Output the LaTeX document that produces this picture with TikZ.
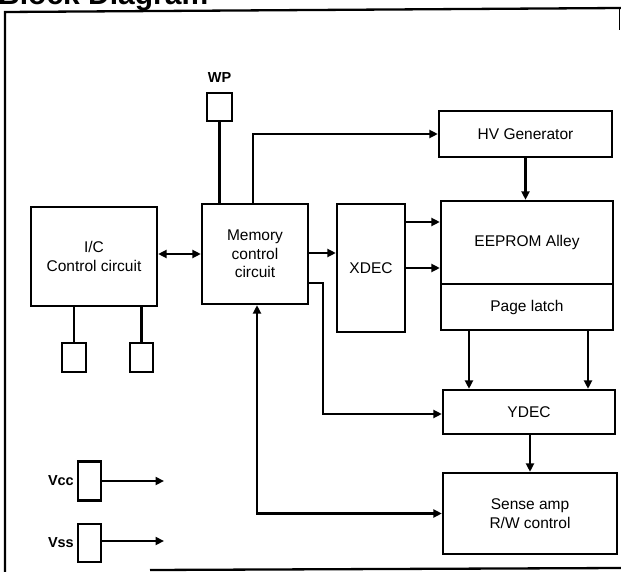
\documentclass[tikz,border=0pt]{standalone}
\usepackage{fontspec}
\setmainfont{Liberation Sans}
\usetikzlibrary{arrows.meta,calc}
\tikzset{
  blk/.style={draw, line width=2.3pt, inner sep=0pt, align=center,
              font=\fontsize{15.5}{18.5}\selectfont},
  pinbox/.style={draw, line width=2.3pt, inner sep=0pt},
  wire/.style={line width=2.2pt},
  arr/.style={wire, -{Triangle[length=8.5pt,width=8pt]}},
  darr/.style={wire, {Triangle[length=8.5pt,width=8pt]}-{Triangle[length=8.5pt,width=8pt]}},
  lbl/.style={font=\fontsize{14.5}{17}\selectfont\bfseries, inner sep=0pt},
}
\begin{document}
\begin{tikzpicture}[x=1pt,y=-1pt]
\clip (0,0) rectangle (621,572);
\fill[white] (0,0) rectangle (621,572);
% title (cut off at the top, as in the reference)
\node[anchor=base west, inner sep=0pt, font=\fontsize{30}{34}\selectfont\bfseries] (title) at (-2,5) {Block Diagram};
% frame
\draw[line width=2.3pt] (5,572) -- (5,12) -- (621,8);
\draw[line width=2.3pt] (150,570) -- (621,568);
\draw[line width=1pt] (619,8) -- (619,30);
% blocks
\node[blk, minimum width=126pt, minimum height=99pt] (ic) at (94,256.5) {I/C\\Control circuit};
\node[blk, minimum width=106pt, minimum height=100pt] (mem) at (255,254) {Memory\\control\\circuit};
\node[blk, minimum width=68pt, minimum height=128pt] (xdec) at (371,268) {XDEC};
\node[blk, minimum width=173pt, minimum height=46pt] (hv) at (525.5,134) {HV Generator};
\node[blk, minimum width=172pt, minimum height=83pt] (ee) at (527,242.5) {EEPROM Alley};
\node[blk, minimum width=172pt, minimum height=46pt] (pl) at (527,307) {Page latch};
\node[blk, minimum width=172pt, minimum height=44pt] (ydec) at (529,412) {YDEC};
\node[blk, minimum width=174pt, minimum height=81pt] (sense) at (530,513.5) {Sense amp\\R/W control};
% pins
\node[pinbox, minimum width=25pt, minimum height=28pt] (wp) at (219.5,107) {};
\node[lbl] (wplbl) at (219.5,78) {WP};
\node[pinbox, minimum width=24pt, minimum height=29pt] (p1) at (74,357.5) {};
\node[pinbox, minimum width=23pt, minimum height=29pt] (p2) at (141.5,357.5) {};
\node[pinbox, minimum width=23pt, minimum height=39pt] (vcc) at (89.5,481) {};
\node[pinbox, minimum width=23pt, minimum height=38pt] (vss) at (89.5,543) {};
\node[lbl, anchor=east] (vcclbl) at (74,481) {Vcc};
\node[lbl, anchor=east] (vsslbl) at (74,543) {Vss};
\coordinate (vccend) at (164,481);
\coordinate (vssend) at (164,541);
% connectors
\draw[wire] (wp.south) -- (wp.south |- mem.north);
\draw[wire] (p1.north) -- (p1.north |- ic.south);
\draw[wire] (p2.north) -- (p2.north |- ic.south);
\draw[arr] (mem.north -| 253,0) |- (hv.west);
\draw[darr] (ic.east |- 0,254) -- (mem.west |- 0,254);
\draw[arr] (mem.east |- 0,253) -- (xdec.west |- 0,253);
\draw[arr] (xdec.east |- 0,222) -- (ee.west |- 0,222);
\draw[arr] (xdec.east |- 0,268) -- (ee.west |- 0,268);
\draw[arr] (hv.south) -- (hv.south |- ee.north);
\draw[arr] (pl.south -| 469,0) -- (ydec.north -| 469,0);
\draw[arr] (pl.south -| 588,0) -- (ydec.north -| 588,0);
\draw[arr] (mem.east |- 0,283) -| (323,414) -- (ydec.west |- 0,414);
\draw[arr] (ydec.south -| 530,0) -- (sense.north -| 530,0);
\draw[darr] (mem.south -| 257,0) |- (sense.west);
\draw[arr] (vcc.east) -- (vccend);
\draw[arr] (vss.east |- vssend) -- (vssend);
\end{tikzpicture}
\end{document}
